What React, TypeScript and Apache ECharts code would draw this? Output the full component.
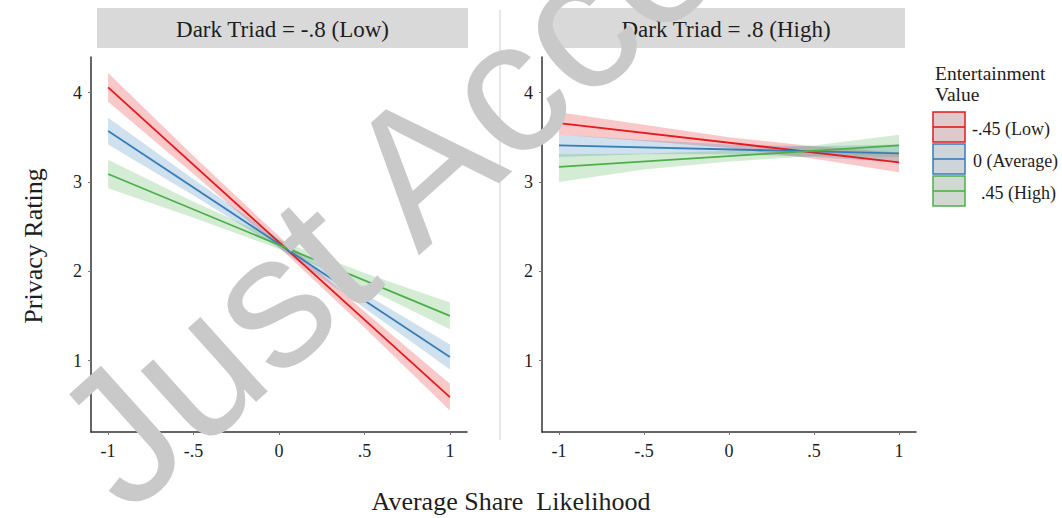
import React, { useEffect, useRef } from "react";
import * as echarts from "echarts";

// ---------- data ----------
const panelTitles = ["Dark Triad = -.8 (Low)", "Dark Triad = .8 (High)"];
const groupLabels = ["-.45 (Low)", "0 (Average)", ".45 (High)"];
const legendTitle = ["Entertainment", "Value"];
const xTitle = "Average Share  Likelihood";
const yTitle = "Privacy Rating";

const xTicks = [-1, -0.5, 0, 0.5, 1];
const xTickLabels = ["-1", "-.5", "0", ".5", "1"];
const yTicks = [1, 2, 3, 4];
const yTickLabels = ["1", "2", "3", "4"];

// fitted lines (value at x = -1 and x = 1)
const lineX = [-1, 1];
const lowRedLine = [4.06, 0.59];
const lowBlueLine = [3.57, 1.04];
const lowGreenLine = [3.09, 1.5];
const highRedLine = [3.66, 3.22];
const highBlueLine = [3.41, 3.32];
const highGreenLine = [3.17, 3.41];

// confidence ribbons at xTicks
const lowRedLower = [3.9, 3.09, 2.27, 1.37, 0.44];
const lowRedUpper = [4.22, 3.29, 2.39, 1.55, 0.74];
const lowBlueLower = [3.42, 2.85, 2.26, 1.59, 0.9];
const lowBlueUpper = [3.72, 3.03, 2.36, 1.75, 1.18];
const lowGreenLower = [2.93, 2.6, 2.25, 1.82, 1.35];
const lowGreenUpper = [3.25, 2.78, 2.35, 1.98, 1.65];

const highRedLower = [3.53, 3.46, 3.38, 3.26, 3.11];
const highRedUpper = [3.78, 3.64, 3.5, 3.4, 3.33];
const highBlueLower = [3.28, 3.31, 3.31, 3.28, 3.22];
const highBlueUpper = [3.53, 3.47, 3.42, 3.4, 3.42];
const highGreenLower = [3.0, 3.14, 3.23, 3.29, 3.28];
const highGreenUpper = [3.31, 3.32, 3.35, 3.41, 3.53];

const watermark = "Just Accepted";

// ---------- style ----------
const COLORS = ["#E41A1C", "#377EB8", "#4DAF4A"];
const SERIF = '"Liberation Serif", "Times New Roman", serif';
const TEXT = "#1e1e1e";

function ribbon(idx: number, lower: number[], upper: number[], color: string) {
  return {
    type: "custom",
    xAxisIndex: idx,
    yAxisIndex: idx,
    silent: true,
    z: 1,
    data: xTicks.map((x, i) => [x, lower[i], upper[i]]),
    renderItem: (params: any, api: any) => {
      if (params.dataIndex !== 0) return { type: "group", children: [] };
      const pts: number[][] = [];
      for (let i = 0; i < xTicks.length; i++) pts.push(api.coord([xTicks[i], upper[i]]));
      for (let i = xTicks.length - 1; i >= 0; i--) pts.push(api.coord([xTicks[i], lower[i]]));
      return {
        type: "polygon",
        shape: { points: pts },
        style: { fill: color, opacity: 0.24 },
      };
    },
  };
}

function fit(idx: number, vals: number[], color: string) {
  return {
    type: "line",
    xAxisIndex: idx,
    yAxisIndex: idx,
    silent: true,
    showSymbol: false,
    z: 3,
    data: lineX.map((x, i) => [x, vals[i]]),
    lineStyle: { color, width: 1.8 },
  };
}

function xAxis(idx: number) {
  return {
    type: "value",
    gridIndex: idx,
    min: -1.1,
    max: 1.1,
    axisLine: { show: true, onZero: false, lineStyle: { color: "#333", width: 1.5 } },
    axisTick: { show: true, customValues: xTicks, length: 3, lineStyle: { color: "#777" } },
    axisLabel: {
      customValues: xTicks,
      formatter: (v: number) => xTickLabels[xTicks.indexOf(v)] ?? "",
      fontFamily: SERIF,
      fontSize: 18,
      color: TEXT,
      margin: 10,
    },
    splitLine: { show: false },
  };
}

function yAxis(idx: number) {
  return {
    type: "value",
    gridIndex: idx,
    min: 0.2,
    max: 4.4,
    axisLine: { show: true, onZero: false, lineStyle: { color: "#333", width: 1.5 } },
    axisTick: { show: true, customValues: yTicks, length: 3, lineStyle: { color: "#777" } },
    axisLabel: {
      customValues: yTicks,
      formatter: (v: number) => yTickLabels[yTicks.indexOf(v)] ?? "",
      fontFamily: SERIF,
      fontSize: 18,
      color: TEXT,
      margin: 9,
    },
    splitLine: { show: false },
  };
}

function txt(x: number, y: number, text: string, size: number, align = "center", extra: any = {}) {
  return {
    type: "text",
    x,
    y,
    z: 10,
    ...extra,
    style: {
      text,
      fontFamily: SERIF,
      fontSize: size,
      fill: TEXT,
      align,
      verticalAlign: "middle",
      textAlign: align,
      textVerticalAlign: "middle",
      ...(extra.style || {}),
    },
  };
}

export default function App() {
  const ref = useRef<HTMLDivElement>(null);
  useEffect(() => {
    if (!ref.current) return;
    const chart = echarts.init(ref.current, undefined, { renderer: "svg" });

    const grids = [
      { left: 91, top: 57, width: 376, height: 375 },
      { left: 542, top: 57, width: 374, height: 375 },
    ];
    const strips = [
      { x: 97, w: 371 },
      { x: 547, w: 358 },
    ];

    const graphics: any[] = [];
    strips.forEach((s, i) => {
      graphics.push({
        type: "rect",
        z: 5,
        shape: { x: s.x, y: 8, width: s.w, height: 40 },
        style: { fill: "#d9d9d9" },
      });
      graphics.push(txt(s.x + s.w / 2, 29, panelTitles[i], 23));
    });
    graphics.push({
      type: "line",
      z: 5,
      shape: { x1: 500, y1: 10, x2: 500, y2: 440 },
      style: { stroke: "#cfcfcf", lineWidth: 1 },
    });
    graphics.push(txt(511, 501, xTitle, 26));
    graphics.push(txt(33, 246, yTitle, 26, "center", { rotation: Math.PI / 2 }));
    graphics.push(txt(935, 73, legendTitle[0], 19.5, "left"));
    graphics.push(txt(935, 94, legendTitle[1], 19.5, "left"));
    const labelX = [972, 973, 981];
    groupLabels.forEach((lab, i) => {
      const cy = 127 + i * 32;
      graphics.push({
        type: "rect",
        z: 5,
        shape: { x: 933, y: cy - 15, width: 32, height: 30 },
        style: { fill: "#dedede", stroke: COLORS[i], lineWidth: 1.5 },
      });
      graphics.push({
        type: "rect",
        z: 6,
        shape: { x: 933, y: cy - 15, width: 32, height: 30 },
        style: { fill: COLORS[i], opacity: 0.1 },
      });
      graphics.push({
        type: "line",
        z: 7,
        shape: { x1: 933, y1: cy, x2: 965, y2: cy },
        style: { stroke: COLORS[i], lineWidth: 1.6 },
      });
      graphics.push(txt(labelX[i], cy + 2, lab, 18, "left"));
    });
    graphics.push({
      type: "text",
      x: 84,
      y: 468,
      rotation: (42 * Math.PI) / 180,
      z: 50,
      silent: true,
      style: {
        text: watermark,
        fontFamily: '"Liberation Sans", Arial, sans-serif',
        fontSize: 190,
        fill: "#c9c9c9",
        align: "left",
        verticalAlign: "middle",
        textAlign: "left",
        textVerticalAlign: "middle",
      },
    });

    chart.setOption({
      animation: false,
      backgroundColor: "#ffffff",
      grid: grids,
      xAxis: [xAxis(0), xAxis(1)],
      yAxis: [yAxis(0), yAxis(1)],
      graphic: { elements: graphics },
      series: [
        ribbon(0, lowRedLower, lowRedUpper, COLORS[0]),
        ribbon(0, lowBlueLower, lowBlueUpper, COLORS[1]),
        ribbon(0, lowGreenLower, lowGreenUpper, COLORS[2]),
        ribbon(1, highRedLower, highRedUpper, COLORS[0]),
        ribbon(1, highBlueLower, highBlueUpper, COLORS[1]),
        ribbon(1, highGreenLower, highGreenUpper, COLORS[2]),
        fit(0, lowRedLine, COLORS[0]),
        fit(0, lowBlueLine, COLORS[1]),
        fit(0, lowGreenLine, COLORS[2]),
        fit(1, highRedLine, COLORS[0]),
        fit(1, highBlueLine, COLORS[1]),
        fit(1, highGreenLine, COLORS[2]),
      ],
    });
    return () => chart.dispose();
  }, []);
  return (
    <div
      ref={ref}
      style={{ position: "fixed", left: 0, top: 0, width: 1062, height: 518, background: "#fff" }}
    />
  );
}
